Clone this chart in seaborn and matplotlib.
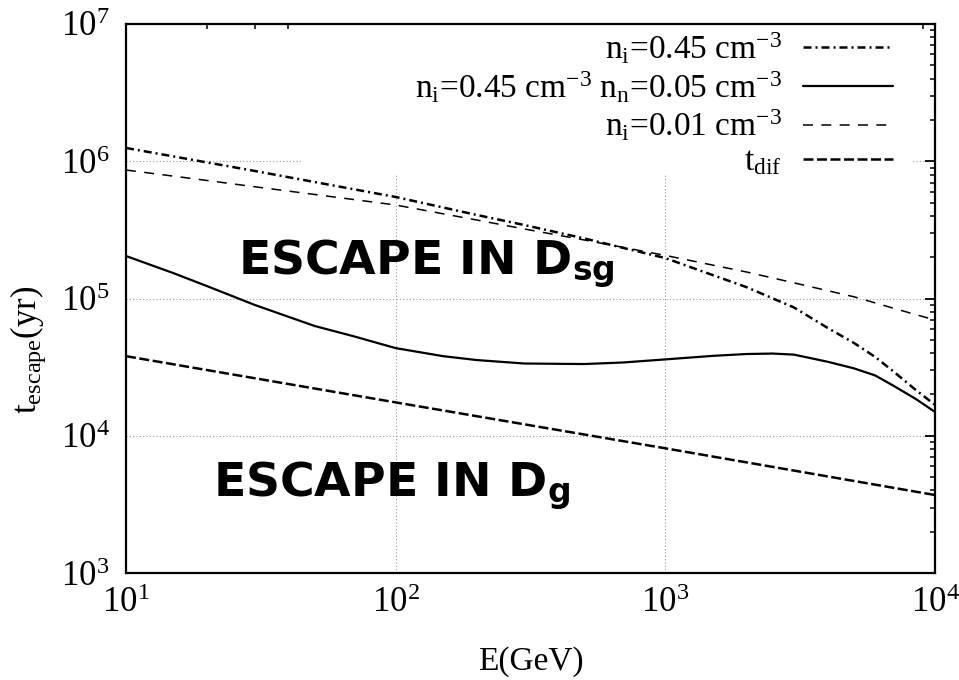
import numpy as np
import pandas as pd
import matplotlib
matplotlib.use("Agg")
import matplotlib.pyplot as plt
from matplotlib.patches import Rectangle
from matplotlib.lines import Line2D
from matplotlib.ticker import LogLocator, LogFormatterMathtext, NullFormatter
import seaborn as sns

# Energies (GeV) and escape times (yr)
energy_045 = [10, 20, 30, 50, 100, 200, 300, 500, 1000, 1500, 2000, 3000, 4000,
              5000, 6000, 7000, 8500, 10000]
t_ion_045 = [1.25e6, 9.8e5, 8.5e5, 7.06e5, 5.49e5, 4.06e5, 3.43e5, 2.74e5,
             1.97e5, 1.48e5, 1.21e5, 8.6e4, 6.1e4, 4.75e4, 3.75e4, 2.95e4,
             2.15e4, 1.68e4]

energy_neutral = [10, 15, 20, 30, 50, 70, 100, 150, 200, 300, 500, 700, 1000,
                  1500, 2000, 2500, 3000, 4000, 5000, 6000, 7000, 8500, 10000]
t_ion_neutral = [2.04e5, 1.53e5, 1.23e5, 8.98e4, 6.31e4, 5.3e4, 4.35e4, 3.8e4,
                 3.56e4, 3.36e4, 3.33e4, 3.42e4, 3.6e4, 3.82e4, 3.94e4, 3.97e4,
                 3.9e4, 3.46e4, 3.1e4, 2.75e4, 2.32e4, 1.85e4, 1.49e4]

energy_001 = [10, 20, 30, 50, 100, 200, 300, 500, 1000, 2000, 3000, 5000, 7000,
              10000]
t_ion_001 = [8.63e5, 7.24e5, 6.52e5, 5.73e5, 4.80e5, 3.73e5, 3.21e5, 2.67e5,
             2.06e5, 1.56e5, 1.30e5, 1.03e5, 8.5e4, 6.97e4]

energy_dif = [10, 100, 1000, 10000]
t_dif = [3.8e4, 1.75e4, 8.1e3, 3.7e3]

labels = [r"$\mathrm{n_i}$=0.45 cm$^{-3}$",
          r"$\mathrm{n_i}$=0.45 cm$^{-3}$ $\mathrm{n_n}$=0.05 cm$^{-3}$",
          r"$\mathrm{n_i}$=0.01 cm$^{-3}$",
          r"$\mathrm{t_{dif}}$"]

sns.set_theme(style="white")
plt.rcParams["font.family"] = ["Liberation Serif", "DejaVu Serif"]
plt.rcParams["mathtext.fontset"] = "custom"
plt.rcParams["mathtext.rm"] = "Liberation Serif"
plt.rcParams["mathtext.it"] = "Liberation Serif:italic"
plt.rcParams["mathtext.bf"] = "DejaVu Sans:bold"
plt.rcParams["text.color"] = "black"
plt.rcParams["axes.labelcolor"] = "black"
plt.rcParams["xtick.color"] = "black"
plt.rcParams["ytick.color"] = "black"

fig = plt.figure(figsize=(9.59, 6.80), dpi=100)
ax = fig.add_axes([126 / 959, 1 - 573 / 680, (935 - 126) / 959, (573 - 24) / 680])

styles = [
    dict(lw=1.8, linestyle=(0, (3.2, 1.6, 0.8, 1.6))),
    dict(lw=1.6, linestyle="-"),
    dict(lw=1.1, linestyle=(0, (6.5, 5.5))),
    dict(lw=1.8, linestyle=(0, (4.0, 1.4))),
]
series = [(energy_045, t_ion_045), (energy_neutral, t_ion_neutral),
          (energy_001, t_ion_001), (energy_dif, t_dif)]

for (x, y), st in zip(series, styles):
    df = pd.DataFrame({"E": x, "t": y})
    sns.lineplot(data=df, x="E", y="t", ax=ax, color="black", zorder=3,
                 legend=False, **st)

ax.set_xscale("log")
ax.set_yscale("log")
ax.set_xlim(10, 1e4)
ax.set_ylim(1e3, 1e7)

# major decades grid, dotted
ax.set_axisbelow(True)
ax.grid(True, which="major", linestyle=(0, (1, 2)), color="#999999", lw=0.8)

ax.xaxis.set_major_locator(LogLocator(base=10, numticks=10))
ax.yaxis.set_major_locator(LogLocator(base=10, numticks=10))
ax.xaxis.set_minor_locator(LogLocator(base=10, subs=np.arange(2, 10), numticks=20))
ax.yaxis.set_minor_locator(LogLocator(base=10, subs=np.arange(2, 10), numticks=20))
ax.xaxis.set_major_formatter(LogFormatterMathtext())
ax.yaxis.set_major_formatter(LogFormatterMathtext())
ax.xaxis.set_minor_formatter(NullFormatter())
ax.yaxis.set_minor_formatter(NullFormatter())

ax.tick_params(which="both", direction="in", top=True, right=True,
               colors="black", labelsize=25)
ax.tick_params(which="major", length=7, width=1.3)
ax.tick_params(which="minor", length=3.8, width=1.1)
ax.tick_params(axis="x", pad=10)
ax.tick_params(axis="y", pad=12)
for sp in ax.spines.values():
    sp.set_color("black")
    sp.set_linewidth(1.6)

ax.set_xlabel("E(GeV)", fontsize=24, labelpad=19, color="black")
ax.set_ylabel(r"$\mathrm{t_{escape}}$(yr)", fontsize=25, color="black")
ax.yaxis.set_label_coords((48 - 126) / 809, (573 - 350) / 549)

# key area masks the grid
ax.add_patch(Rectangle(((302 - 126) / 809, 1 - (175 - 24) / 549),
                       (913 - 302) / 809, (175 - 24) / 549,
                       transform=ax.transAxes, facecolor="white",
                       edgecolor="none", zorder=1))

handles = [Line2D([], [], color="black", **st) for st in styles]
leg = ax.legend(handles, labels, loc="upper right", markerfirst=False,
                frameon=False, fontsize=24, handlelength=2.7,
                handletextpad=0.65, labelspacing=0.1, borderaxespad=0.0,
                borderpad=0.2, bbox_to_anchor=((900 - 126) / 809, 1.0))
for txt in leg.get_texts():
    txt.set_color("black")

ax.text(26, 1.48e5, r"ESCAPE IN D$_{\mathbf{sg}}$", fontsize=34,
        fontweight="bold", family="DejaVu Sans", color="black", zorder=4)
ax.text(21, 3.58e3, r"ESCAPE IN D$_{\mathbf{g}}$", fontsize=34,
        fontweight="bold", family="DejaVu Sans", color="black", zorder=4)

fig.savefig("out.png", dpi=100, facecolor="white")
